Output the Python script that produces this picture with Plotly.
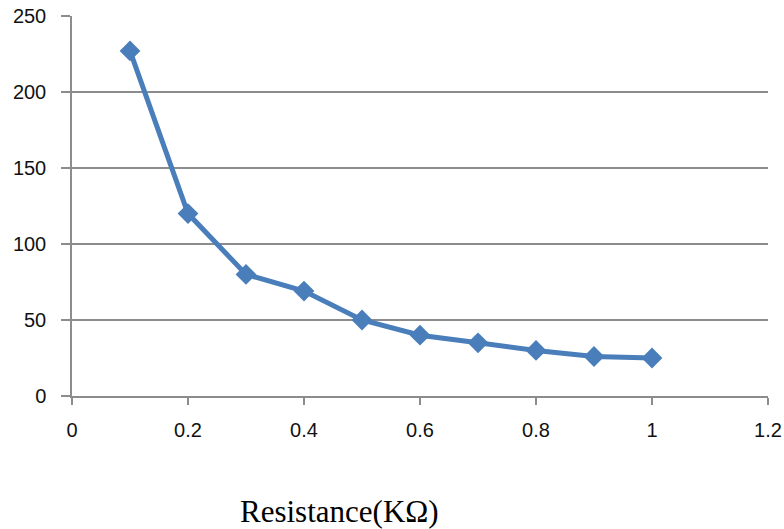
import plotly.graph_objects as go

resistance = [0.1, 0.2, 0.3, 0.4, 0.5, 0.6, 0.7, 0.8, 0.9, 1.0]
values = [227, 120, 80, 69, 50, 40, 35, 30, 26, 25]
x_ticks = [0, 0.2, 0.4, 0.6, 0.8, 1, 1.2]
x_tick_labels = ["0", "0.2", "0.4", "0.6", "0.8", "1", "1.2"]
y_ticks = [0, 50, 100, 150, 200, 250]
x_title = "Resistance(KΩ)"

L, R, T, B = 72, 768, 16, 396
W, H = 784, 529

fig = go.Figure()
fig.add_trace(go.Scatter(
    x=resistance, y=values, mode="lines+markers",
    line=dict(color="#4A7EBB", width=5),
    marker=dict(symbol="diamond", size=16, color="#4A7EBB"),
    showlegend=False, cliponaxis=False,
))

tick_font = dict(family="Liberation Sans, Arial, sans-serif", size=20, color="#111")
axis_col = "#8c8c8c"
fig.update_xaxes(
    range=[0, 1.2], tickvals=x_ticks, ticktext=x_tick_labels,
    showgrid=False, zeroline=False,
    showline=True, linecolor=axis_col, linewidth=1.5,
    ticks="outside", ticklen=7, tickcolor=axis_col, tickwidth=1.5,
    tickfont=tick_font, ticklabelstandoff=8,
)
fig.update_yaxes(
    range=[0, 250], tickvals=y_ticks,
    showgrid=True, gridcolor=axis_col, gridwidth=1.5, zeroline=False,
    showline=True, linecolor=axis_col, linewidth=1.5,
    ticks="outside", ticklen=9, tickcolor=axis_col, tickwidth=1.5,
    tickfont=tick_font, ticklabelstandoff=11,
)
fig.add_annotation(
    text=x_title, xref="paper", yref="paper",
    x=(339 - L) / (R - L), y=-(511 - B) / (B - T),
    showarrow=False, xanchor="center", yanchor="middle",
    font=dict(family="Liberation Serif, Times New Roman, serif", size=31, color="#000"),
)
fig.update_layout(
    width=W, height=H,
    margin=dict(l=L, r=W - R, t=T, b=H - B, autoexpand=False),
    paper_bgcolor="white", plot_bgcolor="white",
)
fig.write_html("out.html")
